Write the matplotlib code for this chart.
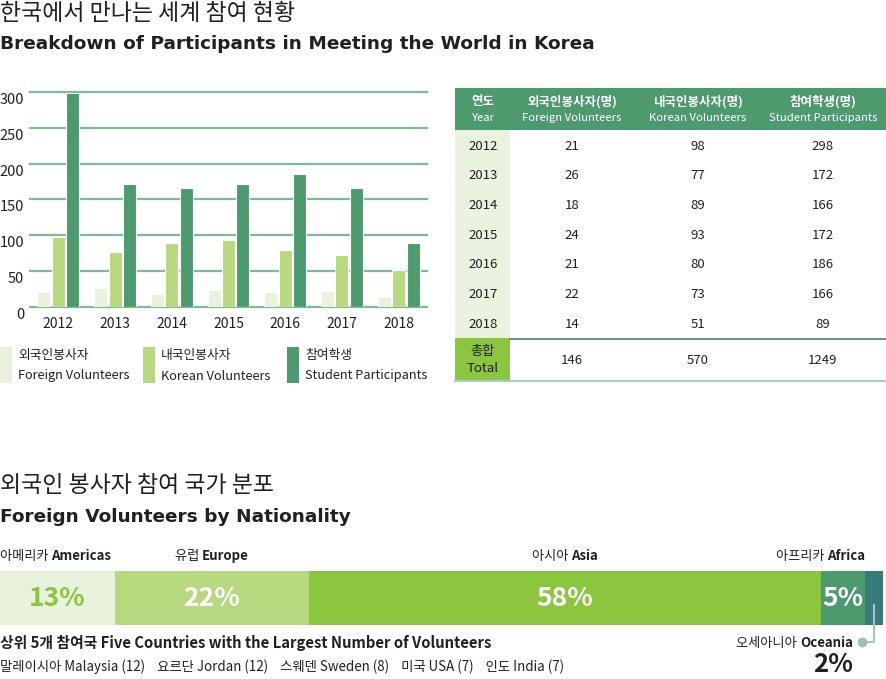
import matplotlib
matplotlib.use("Agg")
import numpy as np
import matplotlib.pyplot as plt
import matplotlib.transforms as mtransforms
from matplotlib.patches import Rectangle
from matplotlib.offsetbox import TextArea, HPacker, AnnotationBbox

KR = ["Noto Sans CJK KR", "DejaVu Sans"]
plt.rcParams["font.family"] = KR

# ---- data ----
years = [2012, 2013, 2014, 2015, 2016, 2017, 2018]
foreign = [21, 26, 18, 24, 21, 22, 14]
korean = [98, 77, 89, 93, 80, 73, 51]
students = [298, 172, 166, 172, 186, 166, 89]
totals = [146, 570, 1249]

series_ko = ["외국인봉사자", "내국인봉사자", "참여학생"]
series_en = ["Foreign Volunteers", "Korean Volunteers", "Student Participants"]
head_ko = ["연도", "외국인봉사자(명)", "내국인봉사자(명)", "참여학생(명)"]
head_en = ["Year", "Foreign Volunteers", "Korean Volunteers", "Student Participants"]

regions_ko = ["아메리카", "유럽", "아시아", "아프리카", "오세아니아"]
regions_en = ["Americas", "Europe", "Asia", "Africa", "Oceania"]
region_share = [13, 22, 58, 5, 2]

top_ko = ["말레이시아", "요르단", "스웨덴", "미국", "인도"]
top_en = ["Malaysia", "Jordan", "Sweden", "USA", "India"]
top_n = [12, 12, 8, 7, 7]

# ---- colours ----
C_FOR = "#e8f2dc"
C_KOR = "#b8d97f"
C_STU = "#4e9a6f"
C_ASIA = "#8cc63f"
C_OCE = "#387b7b"
C_GRID = "#7dbb97"
TXT = "#231f20"
EN_BOLD = ["DejaVu Sans"]

W, H = 886, 679
fig = plt.figure(figsize=(W / 100, H / 100), dpi=100)


def box(x0, y0, x1, y1):
    return [x0 / W, 1 - y1 / H, (x1 - x0) / W, (y1 - y0) / H]


def mixed(axes, ko, en, xy, xycoords, align, size=9.5, kw="normal", ew="bold", color=TXT):
    ta = TextArea(ko, textprops=dict(size=size, weight=kw, color=color, family=KR))
    tb = TextArea(en, textprops=dict(size=size, weight=ew, color=color, family=KR))
    pk = HPacker(children=[ta, tb], align="baseline", pad=0, sep=0)
    ab = AnnotationBbox(pk, xy, xycoords=xycoords, box_alignment=align,
                        frameon=False, pad=0, annotation_clip=False)
    axes.add_artist(ab)


# ---- grouped bar chart ----
ax = fig.add_axes(box(30, 92, 427, 307))
x = np.arange(len(years))
bw, off = 0.23, 0.255
for i, (vals, c) in enumerate(zip([foreign, korean, students], [C_FOR, C_KOR, C_STU])):
    ax.bar(x + (i - 1) * off, vals, bw, color=c, edgecolor="white", linewidth=0.8, zorder=3)
ax.set_xlim(-0.5, 6.5)
ax.set_ylim(0, 300)
ticks = range(0, 301, 50)
for v in ticks:
    ax.axhline(v, color=C_GRID, lw=1.6, zorder=1, clip_on=False)
ax.set_yticks([])
ax.set_xticks(x, [str(y) for y in years])
ax.tick_params(axis="x", length=0, pad=7, labelsize=10, labelcolor=TXT)
for sp in ax.spines.values():
    sp.set_visible(False)
ax.patch.set_visible(False)
ytr = mtransforms.offset_copy(ax.get_yaxis_transform(), fig=fig, x=-6, y=-8, units="dots")
for v in ticks:
    ax.text(0, v, str(v), transform=ytr, ha="right", va="center", fontsize=10.5, color=TXT)

# ---- overlay in pixel coords ----
ov = fig.add_axes([0, 0, 1, 1])
ov.set_xlim(0, W)
ov.set_ylim(H, 0)
ov.axis("off")
ov.patch.set_visible(False)

ov.text(0, 14, "한국에서 만나는 세계 참여 현황", fontsize=16.5, va="center", color=TXT)
ov.text(0, 44, "Breakdown of Participants in Meeting the World in Korea",
        fontsize=13.3, weight="bold", family=EN_BOLD, va="center", color=TXT)

# legend
for lx, ko, en, c in zip([0, 143, 287], series_ko, series_en, [C_FOR, C_KOR, C_STU]):
    ov.add_patch(Rectangle((lx, 347), 12, 36, color=c, lw=0))
    ov.text(lx + 18, 355, ko, fontsize=9.2, va="center", color=TXT)
    ov.text(lx + 18, 376, en, fontsize=9.2, va="center", color=TXT)

# table
cols = [483, 572, 698, 823]
ov.add_patch(Rectangle((455, 88), W - 455, 42, color=C_STU, lw=0))
for cx, hk, he in zip(cols, head_ko, head_en):
    ov.text(cx, 102, hk, fontsize=9, weight="bold", color="white", ha="center", va="center")
    ov.text(cx, 118, he, fontsize=8.1, color="white", ha="center", va="center")
ov.add_patch(Rectangle((455, 130), 55, 208, color="#eaf3df", lw=0))
row_h = 29.7
for i, yr in enumerate(years):
    ry = 146 + i * row_h
    for cx, val in zip(cols, [yr, foreign[i], korean[i], students[i]]):
        ov.text(cx, ry, str(val), fontsize=9.5, ha="center", va="center", color=TXT)
ov.add_patch(Rectangle((455, 338), 55, 42, color=C_ASIA, lw=0))
ov.plot([510, W], [338.5, 338.5], color="#3f7f7f", lw=1.2)
ov.plot([455, W], [380.5, 380.5], color="#a9cbcb", lw=1.6)
ov.text(cols[0], 352, "총합", fontsize=9.5, ha="center", va="center", color=TXT)
ov.text(cols[0], 369, "Total", fontsize=9.5, ha="center", va="center", color=TXT)
for cx, t in zip(cols[1:], totals):
    ov.text(cx, 360, str(t), fontsize=9.5, ha="center", va="center", color=TXT)

# section 2 titles
ov.text(0, 486, "외국인 봉사자 참여 국가 분포", fontsize=16.5, va="center", color=TXT)
ov.text(0, 517, "Foreign Volunteers by Nationality", fontsize=13.3, weight="bold",
        family=EN_BOLD, va="center", color=TXT)

# ---- stacked share bar ----
bx = fig.add_axes(box(0, 571, 883, 625))
region_colors = [C_FOR, C_KOR, C_ASIA, C_STU, C_OCE]
left = np.concatenate([[0], np.cumsum(region_share)[:-1]])
bx.barh(0, region_share, left=left, height=1, color=region_colors, edgecolor="none")
bx.set_xlim(0, 100)
bx.set_ylim(-0.5, 0.5)
bx.axis("off")

pct_colors = [C_ASIA, "white", "white", "white"]
for s, l, c in zip(region_share[:4], left[:4], pct_colors):
    bx.text(l + s / 2, 0, f"{s}%", ha="center", va="center", fontsize=19, weight="bold", color=c)

lab_y = 1.28
mixed(bx, regions_ko[0] + " ", regions_en[0], (0, lab_y), ("data", "axes fraction"), (0, 0.5))
mixed(bx, regions_ko[1] + " ", regions_en[1], (left[1] + region_share[1] / 2, lab_y), ("data", "axes fraction"), (0.5, 0.5))
mixed(bx, regions_ko[2] + " ", regions_en[2], (left[2] + region_share[2] / 2, lab_y), ("data", "axes fraction"), (0.5, 0.5))
mixed(bx, regions_ko[3] + " ", regions_en[3], (left[3] + region_share[3], lab_y), ("data", "axes fraction"), (1, 0.5))

# oceania callout
oc = left[4] + region_share[4] / 2
xt = bx.get_xaxis_transform()
bx.plot([oc, oc, oc - 1.4], [0.37, -0.32, -0.32], color="#a7c6c6", lw=1.5, transform=xt, clip_on=False)
bx.plot([oc - 1.4], [-0.32], "o", ms=6, color="#9dbdbd", transform=xt, clip_on=False)
mixed(ov, regions_ko[4] + " ", regions_en[4], (853, 643), "data", (1, 0.5))
ov.text(853, 665, f"{region_share[4]}%", ha="right", va="center", fontsize=18.5, weight="bold", color=TXT)

# top five countries
ov.text(0, 643, "상위 5개 참여국 Five Countries with the Largest Number of Volunteers",
        fontsize=10.7, weight="bold", va="center", color=TXT)
line = "    ".join(f"{k} {e} ({n})" for k, e, n in zip(top_ko, top_en, top_n))
ov.text(0, 667, line, fontsize=9.6, va="center", color=TXT)

fig.savefig("out.png", dpi=100)
